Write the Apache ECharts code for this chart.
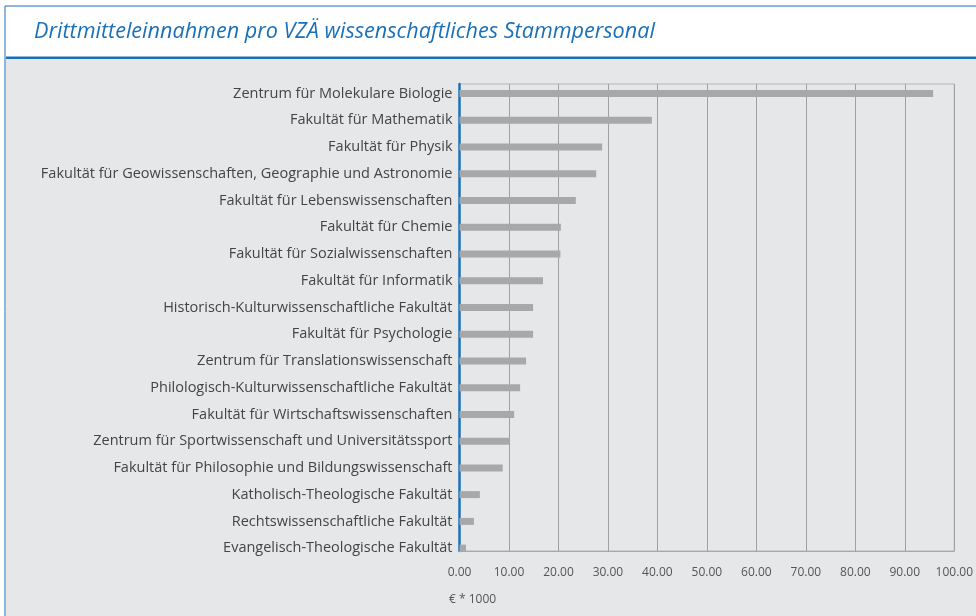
<!DOCTYPE html>
<html>
<head>
<meta charset="utf-8">
<script src="https://cdn.jsdelivr.net/npm/echarts@6/dist/echarts.min.js"></script>
<style>
  html, body { margin: 0; padding: 0; background: #fff; }
  #chart { width: 976px; height: 616px; }
</style>
</head>
<body>
<div id="chart"></div>
<script>
var categories = [
  'Zentrum für Molekulare Biologie',
  'Fakultät für Mathematik',
  'Fakultät für Physik',
  'Fakultät für Geowissenschaften, Geographie und Astronomie',
  'Fakultät für Lebenswissenschaften',
  'Fakultät für Chemie',
  'Fakultät für Sozialwissenschaften',
  'Fakultät für Informatik',
  'Historisch-Kulturwissenschaftliche Fakultät',
  'Fakultät für Psychologie',
  'Zentrum für Translationswissenschaft',
  'Philologisch-Kulturwissenschaftliche Fakultät',
  'Fakultät für Wirtschaftswissenschaften',
  'Zentrum für Sportwissenschaft und Universitätssport',
  'Fakultät für Philosophie und Bildungswissenschaft',
  'Katholisch-Theologische Fakultät',
  'Rechtswissenschaftliche Fakultät',
  'Evangelisch-Theologische Fakultät'
];
var values = [95.3, 38.7, 28.7, 27.5, 23.4, 20.4, 20.3, 16.8, 14.8, 14.8,
              13.4, 12.2, 11.0, 10.1, 8.7, 4.1, 2.9, 1.3];
var axisMin = 0, axisMax = 100, axisStep = 10;

var chart = echarts.init(document.getElementById('chart'));
var font = 'Open Sans, sans-serif';

var option = {
  animation: false,
  backgroundColor: '#ffffff',
  graphic: [
    { type: 'rect', shape: { x: 5, y: 6, width: 980, height: 620 },
      style: { fill: '#ffffff', stroke: '#1a70b8', lineWidth: 1 }, z: -10 },
    { type: 'rect', shape: { x: 6, y: 59, width: 980, height: 570 },
      style: { fill: '#e6e7e9' }, z: -9 },
    { type: 'rect', shape: { x: 6, y: 56.5, width: 980, height: 2.5 },
      style: { fill: '#1a70b8' }, z: -8 },
    { type: 'text', left: 34, top: 21,
      style: { text: 'Drittmitteleinnahmen pro VZÄ wissenschaftliches Stammpersonal',
               font: 'italic 21.6px ' + font, fill: '#1a70b8' } },
    { type: 'text', left: 449, top: 594,
      style: { text: '€ * 1000', font: '12px ' + font, fill: '#555555' } }
  ],
  grid: [
    { left: 459.5, width: 497, top: 84, height: 467, show: true,
      borderColor: '#b5b5b5', borderWidth: 1, backgroundColor: 'transparent' },
    { left: 459.5, width: 497, top: 80, height: 481.5 }
  ],
  xAxis: [
    { gridIndex: 0, type: 'value', min: axisMin, max: axisMax, interval: axisStep,
      axisLine: { show: true, lineStyle: { color: '#a8a8a8' } },
      axisTick: { show: false },
      splitLine: { show: true, lineStyle: { color: '#a0a0a0', width: 1 } },
      axisLabel: { color: '#555555', fontFamily: font, fontSize: 12, margin: 16,
                   formatter: function (v) { return v.toFixed(2); } } },
    { gridIndex: 1, type: 'value', min: axisMin, max: axisMax, show: false }
  ],
  yAxis: [
    { gridIndex: 0, type: 'value', min: 0, max: 1, show: true,
      axisLine: { show: true, lineStyle: { color: '#1a70b8', width: 2.5 } },
      axisTick: { show: false }, axisLabel: { show: false }, splitLine: { show: false } },
    { gridIndex: 1, type: 'category', inverse: true, data: categories,
      axisLine: { show: false }, axisTick: { show: false },
      axisLabel: { color: '#444444', fontFamily: font, fontSize: 14.5, margin: 7 } }
  ],
  series: [{
    type: 'bar',
    xAxisIndex: 1,
    yAxisIndex: 1,
    data: values,
    barWidth: 7,
    itemStyle: { color: '#a7a8aa' },
    z: 5
  }]
};
chart.setOption(option);
</script>
</body>
</html>
